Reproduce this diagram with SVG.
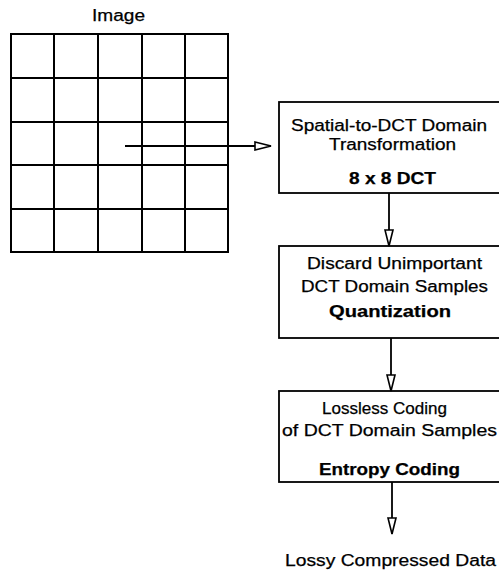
<svg xmlns="http://www.w3.org/2000/svg" width="499" height="572" viewBox="0 0 499 572">
<style>
.box{fill:#fff;stroke:#000;stroke-width:1.8}
.grid{fill:none;stroke:#000;stroke-width:2}
.t{font-family:"Liberation Sans",Arial,sans-serif;font-size:16px;fill:#000;stroke:#000;stroke-width:0.25}
.b{font-weight:bold}
.conn{fill:none;stroke:#000;stroke-width:1.8}
</style>
<defs>
<marker id="open" viewBox="0 0 18 10" refX="17" refY="5" markerWidth="18" markerHeight="10" markerUnits="userSpaceOnUse" orient="auto">
<path d="M1,1 L17,5 L1,9 Z" fill="#fff" stroke="#000" stroke-width="1.6"/>
</marker>
</defs>
<rect width="499" height="572" fill="#fff"/>
<g id="image">
<text class="t" x="92" y="21" textLength="53" lengthAdjust="spacingAndGlyphs">Image</text>
<rect class="grid" x="11" y="34" width="217" height="218"/>
<path class="grid" d="M54,34V252M98,34V252M142,34V252M185,34V252M11,78H228M11,122H228M11,165H228M11,209H228"/>
</g>
<g id="dct">
<rect class="box" x="279" y="102" width="240" height="91"/>
<text class="t" x="291" y="131" textLength="196" lengthAdjust="spacingAndGlyphs">Spatial-to-DCT Domain</text>
<text class="t" x="329" y="150" textLength="127" lengthAdjust="spacingAndGlyphs">Transformation</text>
<text class="t b" x="349" y="184" textLength="87" lengthAdjust="spacingAndGlyphs">8 x 8 DCT</text>
</g>
<g id="quant">
<rect class="box" x="279" y="246" width="240" height="92"/>
<text class="t" x="307" y="269" textLength="175" lengthAdjust="spacingAndGlyphs">Discard Unimportant</text>
<text class="t" x="301" y="292" textLength="187" lengthAdjust="spacingAndGlyphs">DCT Domain Samples</text>
<text class="t b" x="329" y="317" textLength="122" lengthAdjust="spacingAndGlyphs">Quantization</text>
</g>
<g id="entropy">
<rect class="box" x="279" y="391" width="240" height="91"/>
<text class="t" x="322" y="414" textLength="125" lengthAdjust="spacingAndGlyphs">Lossless Coding</text>
<text class="t" x="282" y="436" textLength="215" lengthAdjust="spacingAndGlyphs">of DCT Domain Samples</text>
<text class="t b" x="319" y="475" textLength="141" lengthAdjust="spacingAndGlyphs">Entropy Coding</text>
</g>
<g id="output">
<text class="t" x="285" y="566" textLength="211" lengthAdjust="spacingAndGlyphs">Lossy Compressed Data</text>
</g>
<g id="connectors">
<path class="conn" d="M125,146H271" marker-end="url(#open)"/>
<path class="conn" d="M389,193V246" marker-end="url(#open)"/>
<path class="conn" d="M391,338V391" marker-end="url(#open)"/>
<path class="conn" d="M392,482V534" marker-end="url(#open)"/>
</g>
</svg>
